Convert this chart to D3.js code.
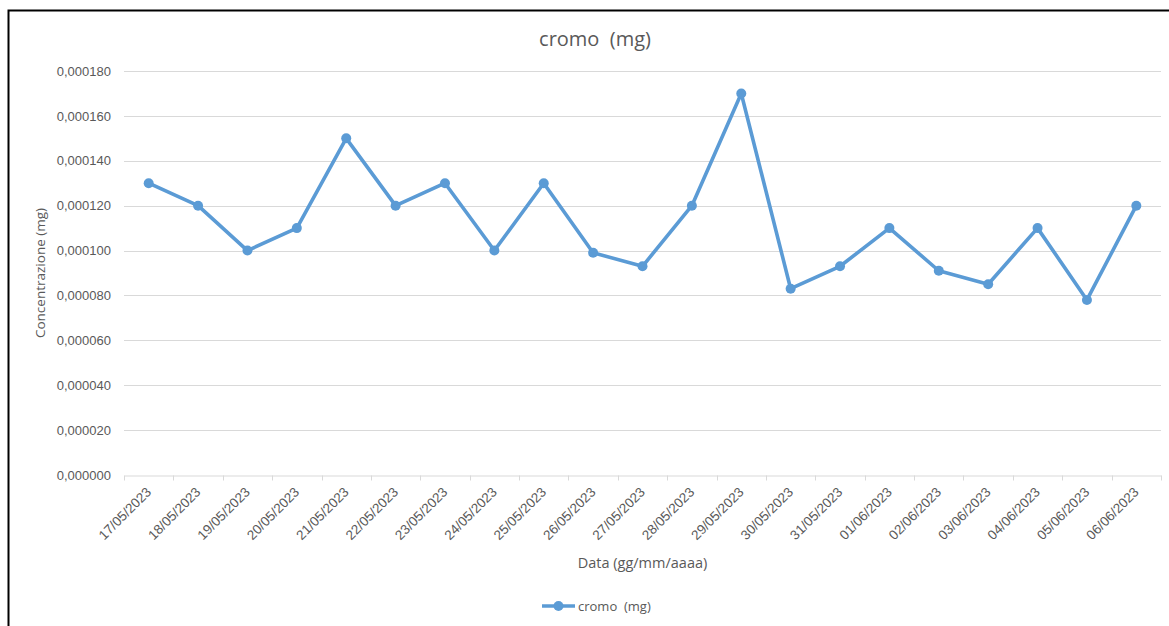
<!DOCTYPE html>
<html>
<head>
<meta charset="utf-8">
<script src="https://cdn.jsdelivr.net/npm/d3@7"></script>
<style>
  body { margin: 0; background: #fff; }
  svg { display: block; font-family: "Open Sans", "Liberation Sans", sans-serif; }
</style>
</head>
<body>
<svg id="chart" width="1169" height="626"></svg>
<script>
// chart data
var dates = ["17/05/2023", "18/05/2023", "19/05/2023", "20/05/2023", "21/05/2023",
  "22/05/2023", "23/05/2023", "24/05/2023", "25/05/2023", "26/05/2023", "27/05/2023",
  "28/05/2023", "29/05/2023", "30/05/2023", "31/05/2023", "01/06/2023", "02/06/2023",
  "03/06/2023", "04/06/2023", "05/06/2023", "06/06/2023"];
var cromo = [0.000130, 0.000120, 0.000100, 0.000110, 0.000150, 0.000120, 0.000130,
  0.000100, 0.000130, 0.000099, 0.000093, 0.000120, 0.000170, 0.000083, 0.000093,
  0.000110, 0.000091, 0.000085, 0.000110, 0.000078, 0.000120];
var yTicks = [0, 0.00002, 0.00004, 0.00006, 0.00008, 0.0001, 0.00012, 0.00014, 0.00016, 0.00018];
var seriesName = "cromo  (mg)";

var svg = d3.select("#chart");
var plotLeft = 124, plotRight = 1161, plotTop = 71, plotBottom = 475;
var blue = "#5b9bd5", grey = "#595959";

//frame
svg.append("path").attr("d", "M8.5,626 V10.5 H1169")
  .attr("fill", "none").attr("stroke", "#000").attr("stroke-width", 2);

//scales
var x = d3.scaleBand().domain(dates).range([plotLeft, plotRight]).padding(0);
var y = d3.scaleLinear().domain([0, 0.00018]).range([plotBottom, plotTop]);
var cx = function(d) { return x(d) + x.bandwidth() / 2; };

//gridlines
svg.append("g").selectAll("line").data(yTicks.slice(1)).enter().append("line")
  .attr("x1", plotLeft).attr("x2", plotRight)
  .attr("y1", function(d) { return Math.round(y(d)) + 0.5; })
  .attr("y2", function(d) { return Math.round(y(d)) + 0.5; })
  .attr("stroke", "#d9d9d9").attr("stroke-width", 1);

//y axis labels
var fmt = function(d) { return d.toFixed(6).replace(".", ","); };
var yaxis = svg.append("g").attr("transform", "translate(" + plotLeft + ",0)")
  .call(d3.axisLeft(y).tickValues(yTicks).tickFormat(fmt).tickSize(0).tickPadding(13));
yaxis.select(".domain").remove();
yaxis.selectAll("text").attr("fill", grey).style("font-size", "13px");

//x axis
var xaxis = svg.append("g").attr("transform", "translate(0," + (Math.round(plotBottom) + 0.5) + ")")
  .call(d3.axisBottom(x).tickSize(0).tickPadding(0));
xaxis.select(".domain").attr("stroke", "#d9d9d9");
xaxis.selectAll("text")
  .attr("fill", grey).style("font-size", "13.5px")
  .attr("text-anchor", "end")
  .attr("transform", "translate(0,14) rotate(-45)")
  .attr("dy", "0.35em").attr("y", 0);
// tick marks between categories
var bounds = dates.map(function(d) { return x(d); }).concat([plotRight]);
xaxis.selectAll("line.sep").data(bounds).enter().append("line")
  .attr("class", "sep")
  .attr("x1", function(d) { return Math.round(d) + 0.5; })
  .attr("x2", function(d) { return Math.round(d) + 0.5; })
  .attr("y1", 0).attr("y2", 5)
  .attr("stroke", "#d9d9d9");

//line and markers
var line = d3.line().x(function(d, i) { return cx(dates[i]); }).y(function(d) { return y(d); });
svg.append("path").datum(cromo).attr("d", line)
  .attr("fill", "none").attr("stroke", blue).attr("stroke-width", 3.6)
  .attr("stroke-linejoin", "round");
svg.append("g").selectAll("circle").data(cromo).enter().append("circle")
  .attr("cx", function(d, i) { return cx(dates[i]); })
  .attr("cy", function(d) { return y(d); })
  .attr("r", 5).attr("fill", blue);

//titles
svg.append("text").attr("x", 595).attr("y", 46).attr("text-anchor", "middle")
  .attr("fill", grey).style("font-size", "20px").style("white-space", "pre").text(seriesName);
svg.append("text").attr("transform", "translate(45," + ((plotTop + plotBottom) / 2) + ") rotate(-90)")
  .attr("text-anchor", "middle").attr("fill", grey).style("font-size", "13.5px")
  .text("Concentrazione (mg)");
svg.append("text").attr("x", (plotLeft + plotRight) / 2).attr("y", 568).attr("text-anchor", "middle")
  .attr("fill", grey).style("font-size", "14.5px").text("Data (gg/mm/aaaa)");

//legend
svg.append("line").attr("x1", 542).attr("x2", 575).attr("y1", 606).attr("y2", 606)
  .attr("stroke", blue).attr("stroke-width", 3.6);
svg.append("circle").attr("cx", 558.5).attr("cy", 606).attr("r", 5).attr("fill", blue);
svg.append("text").attr("x", 578).attr("y", 611).attr("fill", grey)
  .style("font-size", "13px").style("white-space", "pre").text(seriesName);
</script>
</body>
</html>
